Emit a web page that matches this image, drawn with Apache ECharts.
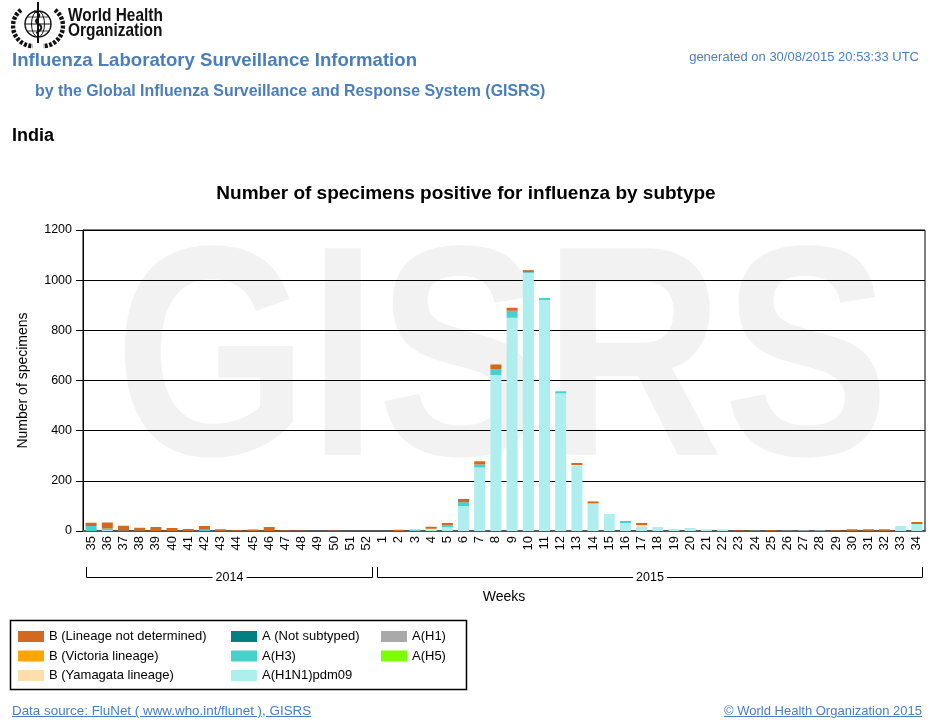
<!DOCTYPE html>
<html lang="en">
<head>
<meta charset="utf-8">
<title>Influenza Laboratory Surveillance Information - India</title>
<script src="https://cdn.jsdelivr.net/npm/echarts@6/dist/echarts.min.js"></script>
<style type="text/css">
	body {margin:0;background:#fff;font-family:"Liberation Sans",Arial,sans-serif}
	#page {position:relative;width:950px;height:727px;overflow:hidden}
	#chart {position:absolute;left:0;top:0;width:950px;height:727px}
	.txt {position:absolute;white-space:nowrap;line-height:1}
	.blue {color:#4a7ebb}
	.who {font-weight:bold;font-size:18.6px;color:#111;transform:scaleX(0.83);transform-origin:left top}
</style>
</head>
<body>
<div id="page">
	<div id="chart"></div>
	<!--WHO header-->
	<svg class="txt" style="left:11px;top:1px" width="54" height="48" viewBox="0 0 54 48">
		<g fill="none" stroke="#111">
			<circle cx="27" cy="23" r="13" stroke-width="1.4"/>
			<ellipse cx="27" cy="23" rx="6.5" ry="13" stroke-width="1"/>
			<line x1="14" y1="23" x2="40" y2="23" stroke-width="1"/>
			<line x1="16" y1="16" x2="38" y2="16" stroke-width="0.8"/>
			<line x1="16" y1="30" x2="38" y2="30" stroke-width="0.8"/>
			<path d="M10 9 A20 20 0 0 0 22 45" stroke-width="4.5" stroke-dasharray="3 1.5"/>
			<path d="M44 9 A20 20 0 0 1 32 45" stroke-width="4.5" stroke-dasharray="3 1.5"/>
			<line x1="27" y1="1" x2="27" y2="42" stroke-width="2"/>
			<path d="M23 10 Q31 13 27 17 Q22 21 29 24 Q33 28 25 32" stroke-width="1.8"/>
		</g>
	</svg>
	<div class="txt who" style="left:68px;top:6px">World Health</div>
	<div class="txt who" style="left:68px;top:21px">Organization</div>
	<div class="txt blue" style="left:12px;top:51px;font-size:18.6px;font-weight:bold">Influenza Laboratory Surveillance Information</div>
	<div class="txt blue" style="right:31px;top:50px;font-size:13px">generated on 30/08/2015 20:53:33 UTC</div>
	<div class="txt blue" style="left:35px;top:83px;font-size:15.9px;font-weight:bold">by the Global Influenza Surveillance and Response System (GISRS)</div>
	<div class="txt" style="left:12px;top:126px;font-size:18px;font-weight:bold;color:#000">India</div>
	<!--Footer-->
	<div class="txt blue" style="left:12px;top:704px;font-size:13.4px;text-decoration:underline">Data source: FluNet ( www.who.int/flunet ), GISRS</div>
	<div class="txt blue" style="right:28px;top:704px;font-size:13px;text-decoration:underline">&copy; World Health Organization 2015</div>
</div>

<script>
	<!--Weeks 35-52 of 2014, then 1-34 of 2015-->
	var weeks = ['35','36','37','38','39','40','41','42','43','44','45','46','47','48','49','50','51','52',
		'1','2','3','4','5','6','7','8','9','10','11','12','13','14','15','16','17',
		'18','19','20','21','22','23','24','25','26','27','28','29','30','31','32','33','34'];
	var years = [{name: '2014', from: 0, to: 17}, {name: '2015', from: 18, to: 51}];

	//               |------------------------------ 2014 -------------------------------| |------------------------------------------------------------------ 2015 ------------------------------------------------------------------------|
	var a_h1      = [0,0,0,0,0,0,0,0,0,0,0,0,0,0,0,0,0,0, 0,0,0,0,0,0,0,0,0,0,0,0,0,0,0,0,0,0,0,0,0,0,0,0,0,0,0,0,0,0,0,0,0,0];
	var a_pdm09   = [0,4,0,0,0,0,0,0,0,0,0,0,0,0,0,0,0,0, 0,0,3,4,15,99,253,622,850,1028,921,549,260,110,68,32,18,16,8,12,7,7,0,1,0,1,2,2,0,0,0,0,20,28];
	var a_h3      = [20,6,2,1,0,0,0,5,0,0,0,0,0,0,0,0,0,0, 0,0,3,0,8,16,12,23,28,4,8,8,0,0,0,8,0,0,0,0,0,0,0,0,0,0,0,0,0,0,0,0,0,0];
	var a_h5      = [0,0,0,0,0,0,0,0,0,0,0,0,0,0,0,0,0,0, 0,0,0,0,0,0,0,0,0,0,0,0,0,0,0,0,0,0,0,0,0,0,0,0,0,0,0,0,0,0,0,0,0,0];
	var a_notsub  = [0,0,0,0,0,0,0,0,0,0,0,0,0,0,0,0,0,0, 0,0,0,0,0,0,0,0,0,0,0,0,0,0,0,0,0,0,0,0,0,0,0,0,0,0,0,0,0,0,0,0,0,0];
	var b_yam     = [0,0,0,0,0,0,0,0,0,0,0,0,0,0,0,0,0,0, 0,0,0,5,0,0,0,0,0,0,0,0,3,0,0,0,6,0,0,0,0,0,0,0,0,0,0,0,0,0,0,0,0,0];
	var b_vic     = [0,0,0,0,0,0,0,0,0,0,0,0,0,0,0,0,0,0, 0,0,0,0,0,0,0,0,0,0,0,0,0,0,0,0,0,0,0,0,0,0,0,0,0,0,0,0,0,0,0,0,0,0];
	var b_nd      = [13,24,19,12,16,12,8,15,7,3,6,16,2,1,0,2,0,0, 0,5,0,8,9,13,13,19,12,8,0,0,8,8,0,0,8,0,0,0,0,0,2,0,3,0,0,0,2,7,7,7,0,8];

	var y_ticks = [0, 200, 400, 600, 800, 1000, 1200];

	var font = '"Liberation Sans", Arial, sans-serif';

	<!--stack order, bottom first-->
	var subtypes = [
		{name: 'A(H1)', data: a_h1, color: '#A9A9A9'},
		{name: 'A(H1N1)pdm09', data: a_pdm09, color: '#AFEEEE'},
		{name: 'A(H3)', data: a_h3, color: '#48D1CC'},
		{name: 'A(H5)', data: a_h5, color: '#7CFC00'},
		{name: 'A (Not subtyped)', data: a_notsub, color: '#008080'},
		{name: 'B (Yamagata lineage)', data: b_yam, color: '#FFDEAD'},
		{name: 'B (Victoria lineage)', data: b_vic, color: '#FFA500'},
		{name: 'B (Lineage not determined)', data: b_nd, color: '#D2691E'}
	];
	var legend_cols = [
		['B (Lineage not determined)', 'B (Victoria lineage)', 'B (Yamagata lineage)'],
		['A (Not subtyped)', 'A(H3)', 'A(H1N1)pdm09'],
		['A(H1)', 'A(H5)']
	];
	var legend_left = [18, 231, 381];

	var myChart = echarts.init(document.getElementById('chart'));

	var series = subtypes.map(function (s) {
		return {
			name: s.name,
			type: 'bar',
			stack: 'total',
			barCategoryGap: '32%',
			itemStyle: {color: s.color},
			emphasis: {disabled: true},
			data: s.data
		};
	});

	var legends = legend_cols.map(function (col, i) {
		return {
			orient: 'vertical',
			left: legend_left[i],
			top: 630,
			padding: 0,
			itemGap: 6.5,
			itemWidth: 26,
			itemHeight: 11,
			icon: 'rect',
			selectedMode: false,
			textStyle: {fontSize: 13, color: '#000', fontFamily: font},
			data: col
		};
	});

	var option = {
		animation: false,
		backgroundColor: '#fff',
		title: {
			text: 'Number of specimens positive for influenza by subtype',
			left: 466,
			textAlign: 'center',
			top: 184,
			padding: 0,
			textStyle: {fontSize: 19, fontWeight: 'bold', color: '#000', fontFamily: font}
		},
		legend: legends,
		grid: {
			left: 83, right: 25, top: 230, bottom: 196,
			show: true, borderColor: '#000', borderWidth: 1, backgroundColor: 'transparent'
		},
		xAxis: {
			type: 'category',
			data: weeks,
			name: 'Weeks',
			nameLocation: 'middle',
			nameGap: 59,
			nameTextStyle: {fontSize: 14, color: '#000', fontFamily: font},
			axisLine: {lineStyle: {color: '#555', width: 2}},
			axisTick: {alignWithLabel: true, length: 5, lineStyle: {color: '#000'}},
			axisLabel: {rotate: 90, interval: 0, margin: 5, fontSize: 13, color: '#000', fontFamily: font}
		},
		yAxis: {
			type: 'value',
			min: y_ticks[0],
			max: y_ticks[y_ticks.length - 1],
			interval: y_ticks[1] - y_ticks[0],
			name: 'Number of specimens',
			nameLocation: 'middle',
			nameGap: 53,
			nameTextStyle: {fontSize: 14, color: '#000', fontFamily: font},
			axisLine: {show: true, lineStyle: {color: '#000'}},
			axisTick: {show: true, length: 7, lineStyle: {color: '#000'}},
			axisLabel: {margin: 11, fontSize: 12.5, color: '#000', fontFamily: font,
				formatter: function (v) { return String(v); }},
			splitLine: {lineStyle: {color: '#000', width: 1}}
		},
		series: series
	};

	myChart.setOption(option);

	<!--Watermark, legend frame and year brackets (positions from the x axis)-->
	function px(i) {
		return myChart.convertToPixel({xAxisIndex: 0}, i);
	}
	var cw = (px(weeks.length - 1) - px(0)) / (weeks.length - 1);
	var half_bar = cw * 0.34;
	var line_y = 577, tick_top = 567;
	var graphic = [
		{
			type: 'text', silent: true, z: -10,
			x: 502, y: 372, scaleX: 0.83,
			style: {text: 'GISRS', font: 'bold 300px ' + font, fill: '#f2f2f2', align: 'center', verticalAlign: 'middle'}
		},
		{
			type: 'rect', silent: true,
			shape: {x: 10.5, y: 620.5, width: 456, height: 69},
			style: {fill: 'none', stroke: '#000', lineWidth: 1.5}
		}
	];
	years.forEach(function (yr) {
		var x0 = Math.round(px(yr.from) - half_bar) + 0.5;
		var x1 = Math.round(px(yr.to) + half_bar) + 0.5;
		var xc = (x0 + x1) / 2;
		graphic.push({
			type: 'polyline', silent: true,
			shape: {points: [[x0, tick_top], [x0, line_y + 0.5], [xc - 17, line_y + 0.5]]},
			style: {stroke: '#000', lineWidth: 1, fill: null}
		});
		graphic.push({
			type: 'polyline', silent: true,
			shape: {points: [[xc + 17, line_y + 0.5], [x1, line_y + 0.5], [x1, tick_top]]},
			style: {stroke: '#000', lineWidth: 1, fill: null}
		});
		graphic.push({
			type: 'text', silent: true,
			x: xc, y: line_y + 0.5,
			style: {text: yr.name, font: '12.5px ' + font, fill: '#000', align: 'center', verticalAlign: 'middle'}
		});
	});
	myChart.setOption({graphic: graphic});
</script>
</body>
</html>
